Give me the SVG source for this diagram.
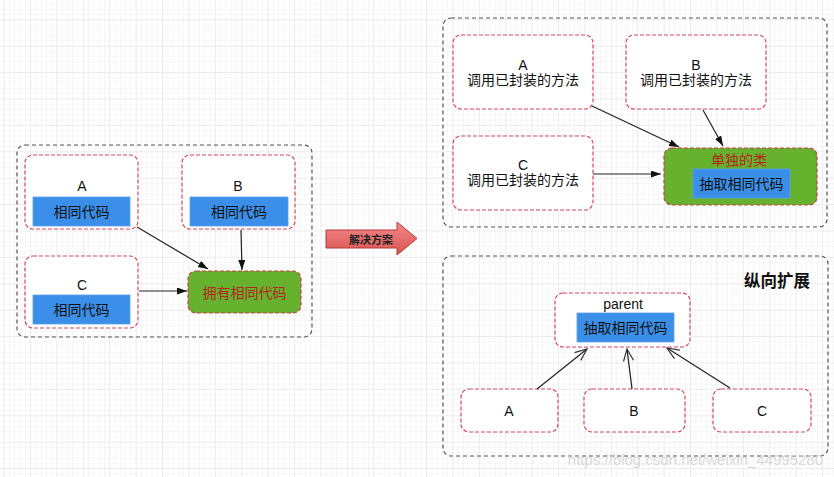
<svg xmlns="http://www.w3.org/2000/svg" width="834" height="477" viewBox="0 0 834 477">
<defs>
<pattern id="minor" width="5.28" height="5.28" patternUnits="userSpaceOnUse" x="3.7" y="19.3">
<path d="M0,0 H5.28 M0,0 V5.28" stroke="#efefef" stroke-width="1" fill="none"/>
</pattern>
<pattern id="major" width="26.4" height="26.4" patternUnits="userSpaceOnUse" x="3.7" y="19.3">
<path d="M0,0 H26.4 M0,0 V26.4" stroke="#e2e2e2" stroke-width="1" fill="none"/>
</pattern>
<linearGradient id="redg" x1="0" y1="0" x2="0" y2="1">
<stop offset="0" stop-color="#f28b8b"/>
<stop offset="1" stop-color="#d9534f"/>
</linearGradient>
<marker id="fa" markerUnits="userSpaceOnUse" markerWidth="11" markerHeight="8" refX="10" refY="3.5" orient="auto">
<path d="M0,0 L10,3.5 L0,7 z" fill="#111"/>
</marker>
<marker id="oa" markerUnits="userSpaceOnUse" markerWidth="14" markerHeight="12" refX="12.5" refY="5.5" orient="auto">
<path d="M0.5,0.5 L12.5,5.5 L0.5,10.5" fill="none" stroke="#333" stroke-width="1.2"/>
</marker>
<style>
.cont{fill:none;stroke:#555;stroke-width:1.2;stroke-dasharray:4 3}
.node{fill:#fff;stroke:#d4475c;stroke-width:1.2;stroke-dasharray:4 2}
.green{fill:#66b22f;stroke:#c8404c;stroke-width:1.2;stroke-dasharray:4 2}
.blue{fill:#3b8fe8;stroke:#5aa0ea;stroke-width:0.8}
.t{font-family:"Liberation Sans","Noto Sans CJK SC",sans-serif;font-size:14px;fill:#111;text-anchor:middle;dominant-baseline:central}
.red{fill:#b3261e}
.conn{stroke:#222;stroke-width:1.2;fill:none}
</style>
</defs>
<rect width="834" height="477" fill="#fff"/>
<rect width="834" height="477" fill="url(#minor)"/>
<rect width="834" height="477" fill="url(#major)"/>

<!-- left container -->
<g id="left-group">
<rect class="cont" x="17" y="145" width="295" height="192" rx="8"/>
</g>
<g id="left-A">
<rect class="node" x="25" y="155" width="113" height="74" rx="8"/>
<text class="t" x="82" y="186">A</text>
<rect class="blue" x="33" y="197" width="97" height="29"/>
<text class="t" x="81.5" y="211.5">相同代码</text>
</g>
<g id="left-B">
<rect class="node" x="182" y="155" width="113" height="74" rx="8"/>
<text class="t" x="238" y="186">B</text>
<rect class="blue" x="190" y="197" width="98" height="29"/>
<text class="t" x="239" y="211.5">相同代码</text>
</g>
<g id="left-C">
<rect class="node" x="25" y="256" width="113" height="72" rx="8"/>
<text class="t" x="82" y="285">C</text>
<rect class="blue" x="33" y="295" width="97" height="29"/>
<text class="t" x="81.5" y="309.5">相同代码</text>
</g>
<g id="left-common">
<rect class="green" x="188" y="271" width="113" height="42" rx="8"/>
<text class="t red" x="244.5" y="292.5">拥有相同代码</text>
</g>

<!-- solution arrow -->
<g id="solution">
<polygon points="326,230 397,230 397,222 417,238.5 397,255 397,248 326,248" fill="url(#redg)" stroke="#b8393a" stroke-width="1"/>
<text x="371" y="239" font-family="'Noto Sans CJK SC',sans-serif" font-size="11" font-weight="bold" fill="#222" text-anchor="middle" dominant-baseline="central">解决方案</text>
</g>

<!-- right top -->
<g id="rt-group">
<rect class="cont" x="443" y="18" width="384" height="209" rx="8"/>
</g>
<g id="rt-A">
<rect class="node" x="453" y="35" width="140" height="74" rx="8"/>
<text class="t" x="523" y="65">A</text>
<text class="t" x="523" y="80">调用已封装的方法</text>
</g>
<g id="rt-B">
<rect class="node" x="626" y="35" width="140" height="74" rx="8"/>
<text class="t" x="696" y="65">B</text>
<text class="t" x="696" y="80">调用已封装的方法</text>
</g>
<g id="rt-C">
<rect class="node" x="453" y="136" width="140" height="74" rx="8"/>
<text class="t" x="523" y="165">C</text>
<text class="t" x="523" y="180">调用已封装的方法</text>
</g>
<g id="rt-class">
<rect class="green" x="664" y="148" width="153" height="57" rx="8"/>
<text class="t red" x="739" y="160">单独的类</text>
<rect class="blue" x="693" y="169" width="97" height="29"/>
<text class="t" x="741.5" y="184">抽取相同代码</text>
</g>

<!-- right bottom -->
<g id="rb-group">
<rect class="cont" x="443" y="256" width="385" height="200" rx="8"/>
<text x="777" y="280" font-family="'Noto Sans CJK SC',sans-serif" font-size="16.5" font-weight="bold" fill="#111" text-anchor="middle" dominant-baseline="central">纵向扩展</text>
</g>
<g id="rb-parent">
<rect class="node" x="555" y="293" width="135" height="54" rx="8"/>
<text class="t" x="623" y="304" font-size="15">parent</text>
<rect class="blue" x="577" y="313" width="97" height="29"/>
<text class="t" x="625.5" y="328">抽取相同代码</text>
</g>
<g id="rb-A">
<rect class="node" x="461" y="389" width="97" height="43" rx="8"/>
<text class="t" x="509" y="411">A</text>
</g>
<g id="rb-B">
<rect class="node" x="584" y="389" width="101" height="43" rx="8"/>
<text class="t" x="634" y="411">B</text>
</g>
<g id="rb-C">
<rect class="node" x="713" y="389" width="98" height="43" rx="8"/>
<text class="t" x="762" y="411">C</text>
</g>

<g id="connectors">
<line class="conn" x1="137" y1="227" x2="208" y2="269" marker-end="url(#fa)"/>
<line class="conn" x1="241" y1="230" x2="242" y2="270" marker-end="url(#fa)"/>
<line class="conn" x1="139" y1="291" x2="187" y2="291" marker-end="url(#fa)"/>
<line class="conn" x1="592" y1="106" x2="679" y2="147" marker-end="url(#fa)"/>
<line class="conn" x1="703" y1="110" x2="723" y2="146" marker-end="url(#fa)"/>
<line class="conn" x1="593" y1="174" x2="661" y2="174" marker-end="url(#fa)"/>
<line class="conn" x1="537" y1="389" x2="587" y2="349" marker-end="url(#oa)"/>
<line class="conn" x1="632" y1="389" x2="627" y2="349" marker-end="url(#oa)"/>
<line class="conn" x1="730" y1="388" x2="667" y2="348" marker-end="url(#oa)"/>
</g>

<text x="823" y="459" font-family="'Liberation Sans',sans-serif" font-size="15" fill="#d6d6d6" text-anchor="end" dominant-baseline="central" opacity="0.9">https://blog.csdn.net/weixin_44995280</text>
</svg>
